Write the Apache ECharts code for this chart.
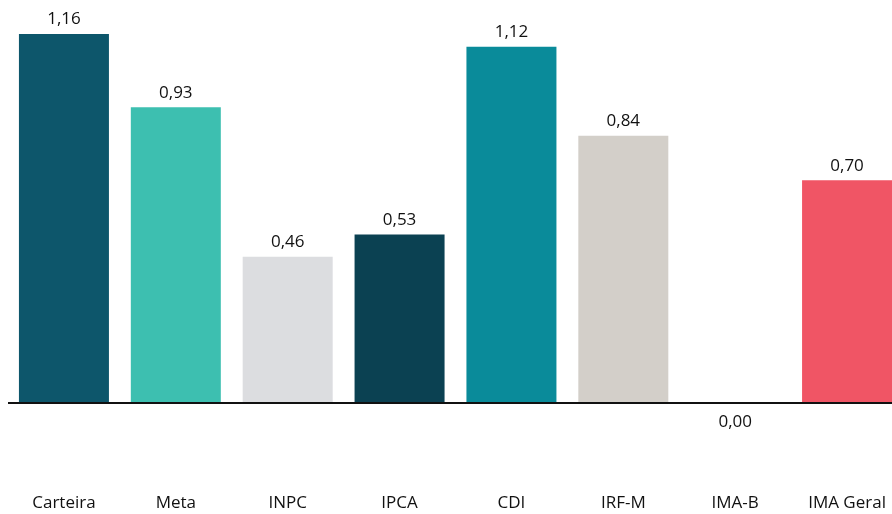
<!DOCTYPE html>
<html>
<head>
<meta charset="utf-8">
<script src="https://cdn.jsdelivr.net/npm/echarts@6/dist/echarts.min.js"></script>
<style>html,body{margin:0;padding:0;background:#fff}#c{width:892px;height:514px}</style>
</head>
<body>
<div id="c"></div>
<script>
const categories = ['Carteira', 'Meta', 'INPC', 'IPCA', 'CDI', 'IRF-M', 'IMA-B', 'IMA Geral'];
const values = [1.16, 0.93, 0.46, 0.53, 1.12, 0.84, 0.00, 0.70];
const colors = ['#0d566b', '#3dbfb0', '#dcdde0', '#0b4152', '#0a8b9a', '#d3cfc9', '#888888', '#f05565'];

const chart = echarts.init(document.getElementById('c'));
const font = '"Open Sans", "Noto Sans", sans-serif';
chart.setOption({
  animation: false,
  grid: { left: 8, width: 895, top: 34, bottom: 26, containLabel: false, outerBoundsMode: 'none' },
  xAxis: {
    type: 'category',
    data: categories,
    axisLine: { show: false, onZero: false },
    axisTick: { show: false },
    axisLabel: { color: '#111', fontFamily: font, fontSize: 17, margin: 7 }
  },
  yAxis: {
    type: 'value', min: -0.267, max: 1.16, show: false, splitLine: { show: false }
  },
  series: [{
    type: 'bar',
    barWidth: 90,
    data: values.map((v, i) => ({
      value: v,
      itemStyle: { color: colors[i] },
      label: v === 0 ? { position: 'bottom', distance: 11 } : undefined
    })),
    label: {
      show: true, position: 'top', distance: 6, color: '#111',
      fontFamily: font, fontSize: 17,
      formatter: p => p.value.toFixed(2).replace('.', ',')
    },
    markLine: {
      silent: true, symbol: 'none', label: { show: false },
      lineStyle: { color: '#111', width: 2, type: 'solid' },
      data: [{ yAxis: 0 }]
    }
  }]
});
</script>
</body>
</html>
